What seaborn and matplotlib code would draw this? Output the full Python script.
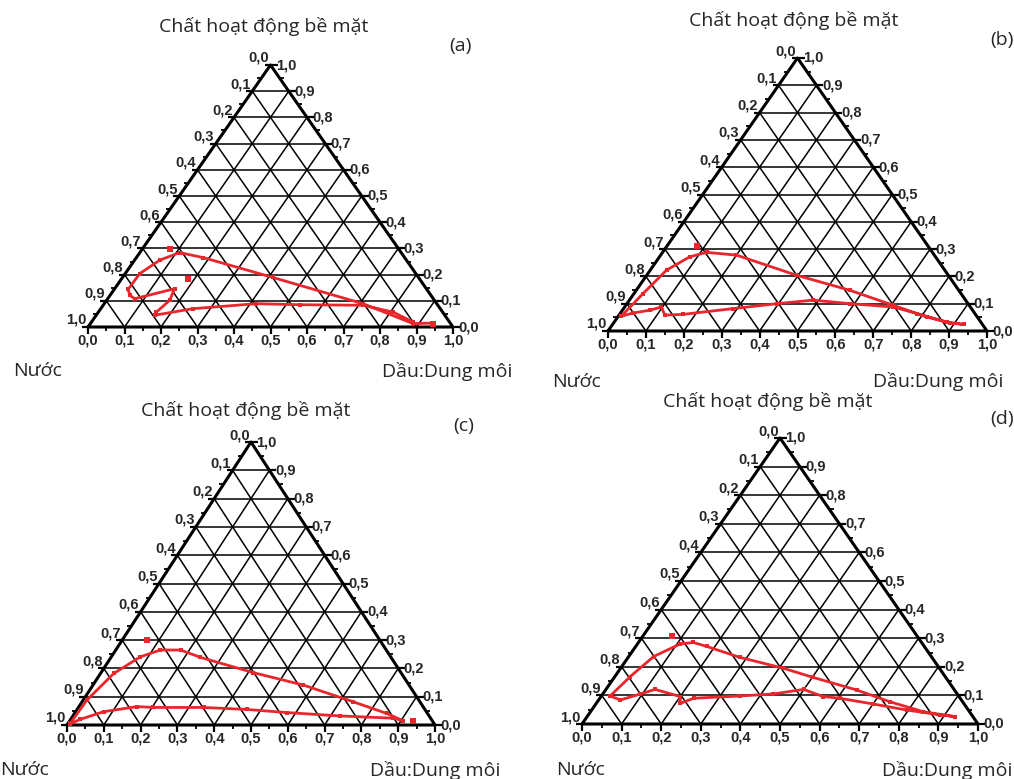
import matplotlib
matplotlib.use("Agg")
import matplotlib.pyplot as plt
import numpy as np
import seaborn as sns

sns.set_theme(style="white")
plt.rcParams['font.family'] = ['Open Sans', 'DejaVu Sans']

# tick values along each side of the triangle
ticks = [0.0, 0.1, 0.2, 0.3, 0.4, 0.5, 0.6, 0.7, 0.8, 0.9, 1.0]
tick_labels = ['0,0', '0,1', '0,2', '0,3', '0,4', '0,5', '0,6', '0,7', '0,8', '0,9', '1,0']

top_label = 'Chất hoạt động bề mặt'
left_label = 'Nước'
right_label = 'Dầu:Dung môi'
panel_tags = ['(a)', '(b)', '(c)', '(d)']

# boundary curves, read as (oil fraction, surfactant fraction)
a_oil = [0.937, 0.884, 0.709, 0.412, 0.183, 0.109, 0.069, 0.040, 0.038, 0.054, 0.074,
         0.164, 0.173, 0.159, 0.160, 0.253, 0.417, 0.537, 0.712, 0.807, 0.881]
a_surf = [0.015, 0.013, 0.089, 0.189, 0.265, 0.284, 0.255, 0.204, 0.144, 0.121, 0.108,
          0.146, 0.102, 0.057, 0.045, 0.070, 0.089, 0.085, 0.083, 0.057, 0.019]
a_pt_oil = [0.074, 0.182, 0.940]
a_pt_surf = [0.299, 0.185, 0.012]

b_oil = [0.008, 0.024, 0.043, 0.080, 0.116, 0.200, 0.396, 0.564, 0.706, 0.816, 0.889, 0.926,
         0.878, 0.783, 0.709, 0.589, 0.485, 0.395, 0.289, 0.168, 0.121, 0.097, 0.072, 0.033, 0.008]
b_surf = [0.054, 0.137, 0.223, 0.272, 0.288, 0.278, 0.204, 0.149, 0.094, 0.051, 0.029, 0.024,
          0.033, 0.064, 0.088, 0.100, 0.113, 0.100, 0.082, 0.061, 0.058, 0.088, 0.076, 0.066, 0.054]
b_pt_oil = [0.080]
b_pt_surf = [0.310]

c_oil = [0.006, 0.010, 0.036, 0.079, 0.121, 0.176, 0.243, 0.414, 0.572, 0.737, 0.848, 0.906,
         0.875, 0.726, 0.575, 0.461, 0.340, 0.204, 0.158, 0.076, 0.026, 0.007]
c_surf = [0.006, 0.088, 0.182, 0.241, 0.265, 0.265, 0.239, 0.185, 0.141, 0.082, 0.041, 0.015,
          0.024, 0.032, 0.044, 0.055, 0.062, 0.062, 0.065, 0.047, 0.020, 0.004]
c_pt_oil = [0.067, 0.934]
c_pt_surf = [0.300, 0.014]

d_oil = [0.022, 0.039, 0.063, 0.108, 0.139, 0.180, 0.282, 0.411, 0.502, 0.634, 0.738, 0.840, 0.928,
         0.887, 0.795, 0.700, 0.606, 0.561, 0.499, 0.431, 0.350, 0.237, 0.212, 0.200, 0.124, 0.095,
         0.055, 0.022]
d_surf = [0.098, 0.166, 0.236, 0.280, 0.285, 0.271, 0.233, 0.195, 0.163, 0.119, 0.078, 0.043, 0.026,
          0.032, 0.049, 0.070, 0.090, 0.096, 0.121, 0.105, 0.098, 0.090, 0.072, 0.096, 0.121, 0.105,
          0.084, 0.098]
d_pt_oil = [0.074]
d_pt_surf = [0.306]

curves = [(a_oil, a_surf, a_pt_oil, a_pt_surf),
          (b_oil, b_surf, b_pt_oil, b_pt_surf),
          (c_oil, c_surf, c_pt_oil, c_pt_surf),
          (d_oil, d_surf, d_pt_oil, d_pt_surf)]

W, H = 1014, 779
# triangle boxes in pixels: left, right, top (apex), base
boxes = [(88, 453, 65, 327), (608, 987, 58, 331), (67, 435, 442, 725), (582, 978, 438, 724)]
# text anchors in pixels: title centre, tag centre, water label left, oil label right
texts = [((264, 26), (460, 46), (13, 371), (512, 371)),
         ((794, 20), (1002, 40), (552, 382), (1003, 382)),
         ((246, 410), (464, 426), (0, 770), (500, 770)),
         ((768, 401), (1002, 419), (556, 770), (1012, 770))]

RED = '#e8262c'


def tern(oil, surf):
    oil = np.asarray(oil, dtype=float)
    surf = np.asarray(surf, dtype=float)
    return oil + surf / 2, surf


def draw_triangle(ax):
    kw = dict(color='black', lw=1.1, clip_on=False, zorder=1)
    for t in ticks[1:-1]:
        ax.plot([t / 2, 1 - t / 2], [t, t], **kw)
        ax.plot([t, t + (1 - t) / 2], [0, 1 - t], **kw)
        ax.plot([1 - t, (1 - t) / 2], [0, 1 - t], **kw)
    ax.plot([0, 1, 0.5, 0], [0, 0, 1, 0], color='black', lw=2.2, clip_on=False, zorder=2)

    minor = np.arange(0.05, 1.0, 0.1)
    tk = dict(color='black', ls='none', clip_on=False, zorder=2)
    sv = np.array(ticks)
    ax.plot(sv, np.zeros(len(sv)), marker=3, ms=5, mew=1.6, **tk)
    ax.plot(minor, np.zeros(len(minor)), marker=3, ms=3, mew=1.3, **tk)
    ax.plot(1 - sv / 2, sv, marker=1, ms=5, mew=1.6, **tk)
    ax.plot(1 - minor / 2, minor, marker=1, ms=3, mew=1.3, **tk)
    ax.plot(sv / 2, sv, marker=0, ms=4, mew=1.6, **tk)
    ax.plot(minor / 2, minor, marker=0, ms=3, mew=1.3, **tk)

    lab = dict(fontsize=10.5, fontweight='bold', family=['Liberation Sans', 'DejaVu Sans'],
               textcoords='offset points', annotation_clip=False)
    for t, s in zip(ticks, tick_labels):
        ax.annotate(s, (t, 0), xytext=(0, -5), ha='center', va='top', **lab)
    for t, s in zip(ticks, tick_labels):
        # surfactant scale on the right side
        ax.annotate(s, (1 - t / 2, t), xytext=(4, 0), ha='left', va='center', **lab)
        # water scale on the left side
        ax.annotate(s, ((1 - t) / 2, 1 - t), xytext=(-1, 0), ha='right', va='bottom', **lab)


fig = plt.figure(figsize=(W / 100, H / 100), dpi=100)
for k, (box, txt, cv) in enumerate(zip(boxes, texts, curves)):
    l, r, t, b = box
    ax = fig.add_axes([l / W, 1 - b / H, (r - l) / W, (b - t) / H])
    ax.set_xlim(0, 1)
    ax.set_ylim(0, 1)
    ax.axis('off')
    draw_triangle(ax)

    oil, surf, p_oil, p_surf = cv
    x, y = tern(oil, surf)
    sns.lineplot(x=x, y=y, sort=False, estimator=None, ax=ax, color=RED, lw=2.0,
                 marker='s', markersize=3.5, markeredgewidth=0, zorder=4, clip_on=False)
    px, py = tern(p_oil, p_surf)
    sns.scatterplot(x=px, y=py, ax=ax, color=RED, marker='s', s=16, linewidth=0, zorder=4)

    (tx, ty), (gx, gy), (wx, wy), (ox, oy) = txt
    fig.text(tx / W, 1 - ty / H, top_label, ha='center', va='center', fontsize=14)
    fig.text(gx / W, 1 - gy / H, panel_tags[k], ha='center', va='center', fontsize=14)
    fig.text(wx / W, 1 - wy / H, left_label, ha='left', va='center', fontsize=14)
    fig.text(ox / W, 1 - oy / H, right_label, ha='right', va='center', fontsize=14)

fig.savefig('out.png', dpi=100, facecolor='white')
